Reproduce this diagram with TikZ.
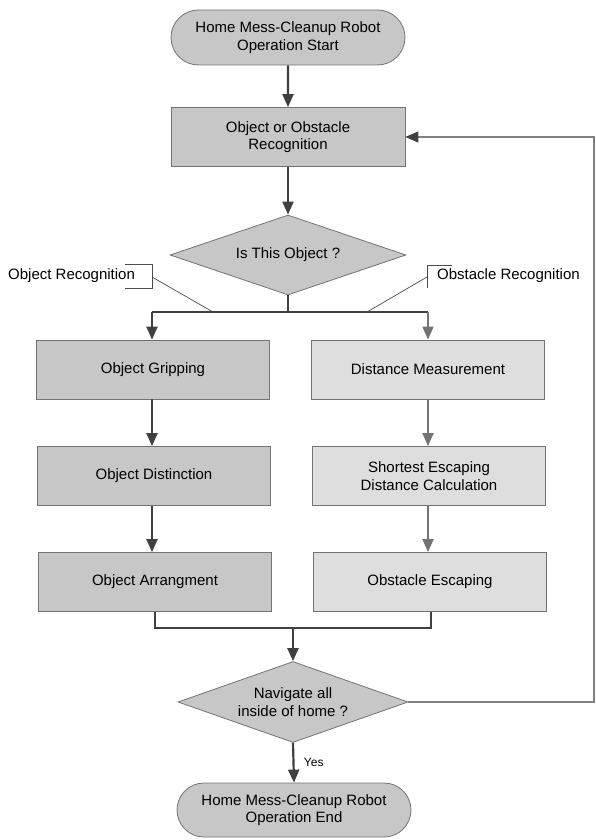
\documentclass[tikz,border=0pt]{standalone}
\usepackage{fontspec}
\setmainfont{Liberation Sans}
\usetikzlibrary{shapes.geometric,shapes.misc,arrows.meta}
\begin{document}
\begin{tikzpicture}[x=1pt,y=-1pt,
  font=\fontsize{15}{17.5}\selectfont,
  term/.style={rounded rectangle, draw=black!55, fill=black!22, line width=0.8pt,
    minimum width=234pt, minimum height=55pt, align=center, inner sep=0pt},
  procL/.style={rectangle, draw=black!55, fill=black!22, line width=0.8pt,
    minimum width=233pt, minimum height=59pt, align=center, inner sep=0pt},
  procR/.style={procL, fill=black!13},
  dec/.style={diamond, draw=black!55, fill=black!22, line width=0.8pt,
    aspect=3, align=center, inner sep=0pt},
  flow/.style={draw=black!75, line width=2.2pt, -{Triangle[width=11pt,length=13pt]}},
  flowlite/.style={draw=black!55, line width=1.8pt, -{Triangle[width=11pt,length=13pt]}},
  wire/.style={draw=black!75, line width=2.2pt},
  leader/.style={draw=black!70, line width=0.7pt},
  loopline/.style={draw=black!50, line width=1.2pt,
    -{Triangle[width=11pt,length=13pt,color=black!75]}},
  lbl/.style={inner sep=0pt, anchor=west}
]
\useasboundingbox (0,0) rectangle (596,840);

% nodes
\node[term] (start) at (288,37.5) {Home Mess-Cleanup Robot\\Operation Start};
\node[procL, minimum width=234pt] (rec) at (288,137) {Object or Obstacle\\Recognition};
\node[dec, minimum width=236pt, minimum height=80pt] (d1) at (288,255) {Is This Object ?};

\node[procL] (grip) at (153,369.5) {Object Gripping};
\node[procL] (dist) at (154,476) {Object Distinction};
\node[procL] (arr)  at (155,582) {Object Arrangment};

\node[procR] (meas) at (428,369.5) {Distance Measurement};
\node[procR] (calc) at (429,476) {Shortest Escaping\\Distance Calculation};
\node[procR] (esc)  at (430,582) {Obstacle Escaping};

\node[dec, minimum width=230pt, minimum height=81pt] (d2) at (293,702) {Navigate all\\inside of home ?};
\node[term, minimum height=54pt] (end) at (294,810) {Home Mess-Cleanup Robot\\Operation End};

% helper coordinates
\coordinate (br) at (288,312);
\coordinate (brL) at (152,312);
\coordinate (brR) at (428,312);
\coordinate (mg) at (293,628);
\coordinate (mgL) at (155,628);
\coordinate (mgR) at (431,628);
\coordinate (lpB) at (594,702);
\coordinate (lpT) at (594,137);

% main flow
\draw[flow] (start) -- (rec);
\draw[flow] (rec) -- (d1);
\draw[wire] (d1.south) -- (br);
\draw[wire] (brL) -- (brR);
\draw[flow] (brL) -- (grip.north -| brL);
\draw[flowlite] (brR) -- (meas.north -| brR);

\draw[flow] (grip.south -| brL) -- (dist.north -| brL);
\draw[flow] (dist.south -| brL) -- (arr.north -| brL);
\draw[flowlite] (meas.south -| brR) -- (calc.north -| brR);
\draw[flowlite] (calc.south -| brR) -- (esc.north -| brR);

\draw[wire] (arr.south -| mgL) -- (mgL) -- (mgR) -- (esc.south -| mgR);
\draw[flow] (mg) -- (d2.north);
\draw[flow] (d2.south) -- node[right=6pt, font=\fontsize{12}{14}\selectfont] {Yes} (end.north);

% loop back
\draw[loopline] (d2.east) -- (lpB) -- (lpT) -- (rec.east);

% callout labels
\node[lbl] (objrec) at (8,276) {Object Recognition};
\draw[leader] (125,264) -- (152,264) -- (152,288) -- (125,288);
\draw[leader] (152,277) -- (213,312);

\node[lbl] (obsrec) at (437,276) {Obstacle Recognition};
\draw[leader] (452,265) -- (427,265) -- (427,288);
\draw[leader] (427,277) -- (367,312);
\end{tikzpicture}
\end{document}
